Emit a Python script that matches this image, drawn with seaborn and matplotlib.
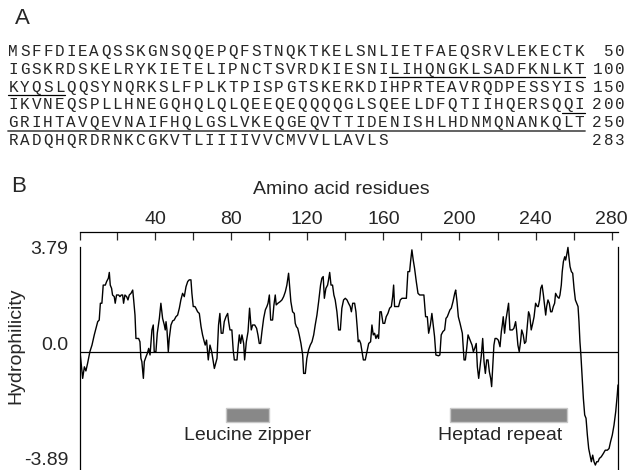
import matplotlib
matplotlib.use('Agg')
import matplotlib.pyplot as plt
import matplotlib.transforms as mtransforms
from matplotlib.lines import Line2D
import seaborn as sns

sns.set_style('white')
plt.rcParams['font.family'] = ['Liberation Sans', 'DejaVu Sans']

# ---- data ----
sequence = ("MSFFDIEAQSSKGNSQQEPQFSTNQKTKELSNLIETFAEQSRVLEKECTK"
            "IGSKRDSKELRYKIETELIPNCTSVRDKIESNILIHQNGKLSADFKNLKT"
            "KYQSLQQSYNQRKSLFPLKTPISPGTSKERKDIHPRTEAVRQDPESSYIS"
            "IKVNEQSPLLHNEGQHQLQLQEEQEQQQQGLSQEELDFQTIIHQERSQQI"
            "GRIHTAVQEVNAIFHQLGSLVKEQGEQVTTIDENISHLHDNMQNANKQLT"
            "RADQHQRDRNKCGKVTLIIIIVVCMVVLLAVLS")
line_ends = [50, 100, 150, 200, 250, 283]
underlined = [(84, 105), (199, 250)]

residue = [
    0.6, 2.0, 2.9, 3.7, 4.6, 5.8, 6.9, 8.1, 9.0, 9.9,
    10.7, 11.3, 12.1, 12.8, 13.9, 14.6, 15.5, 16.0, 16.5, 17.2,
    17.7, 18.6, 19.1, 19.8, 20.9, 21.6, 22.3, 23.0, 23.5, 24.2,
    25.1, 25.8, 26.5, 27.4, 28.3, 28.8, 29.5, 30.0, 31.4, 32.1,
    32.6, 33.1, 33.9, 34.4, 35.3, 36.0, 36.7, 37.4, 38.4, 39.1,
    39.6, 40.5, 41.2, 42.3, 43.1, 44.0, 44.9, 45.4, 45.8, 46.3,
    47.0, 47.5, 48.4, 49.3, 50.1, 51.0, 51.9, 52.8, 53.6, 54.5,
    55.4, 56.3, 57.2, 58.0, 58.9, 59.4, 60.1, 61.0, 61.5, 62.4,
    63.3, 64.2, 65.0, 65.9, 66.4, 67.1, 68.0, 68.9, 69.8, 70.6,
    71.2,
    72.6, 73.4, 74.1, 74.8, 75.7, 76.4, 77.3, 78.2, 78.7, 79.4,
    80.4, 81.1, 81.7, 83.1, 83.6, 84.3, 85.0, 85.7, 86.6, 87.1,
    88.0, 88.9, 89.7, 90.6, 91.3, 92.4, 93.4, 94.1, 94.8, 95.5,
    96.2, 97.1, 98.0, 98.8, 99.4, 100.1, 100.8, 101.8, 102.5, 103.2,
    103.7, 104.6, 105.8, 106.7, 107.6, 108.5, 109.3, 110.2, 110.7, 111.4,
    112.3, 113.2, 113.7, 114.3, 115.0, 115.8, 116.7, 117.6, 118.1, 119.0,
    119.8, 120.7, 121.6, 122.5, 123.4, 124.2, 125.1, 126.0, 127.0, 127.7,
    128.4, 129.0, 129.8, 130.7, 131.2, 131.8, 132.5, 133.3, 134.0, 134.7,
    135.6, 136.5, 137.4, 138.2, 139.1, 140.0, 140.9, 141.7, 142.6,
    143.2, 143.9, 144.9, 145.6, 146.3, 146.8, 147.4, 148.1, 148.8, 149.5,
    150.5, 151.6, 152.3, 153.3, 154.0, 154.7, 155.4, 156.1, 156.8, 157.5,
    158.2, 158.9, 159.8, 160.7, 161.5, 162.4, 163.3, 164.2, 164.9, 165.4,
    165.9, 167.3, 168.0, 168.9, 169.8, 171.2, 172.1, 172.9, 173.8, 174.3,
    175.0, 175.7, 176.4, 177.3, 178.2, 179.1, 180.3, 181.3, 182.2, 183.1,
    183.8, 184.7, 185.5, 186.2, 186.9, 187.6, 189.0, 189.7, 190.4, 191.3,
    192.2, 192.9, 193.6, 194.3, 195.0, 195.7, 196.6, 197.5, 198.0, 198.7,
    199.4, 200.3, 200.9, 201.5, 202.4, 203.1, 203.8, 204.5, 205.2, 205.9,
    206.6, 207.3, 208.0, 208.8, 209.4, 210.1, 210.8, 211.5, 212.2, 212.9,
    213.6, 214.3,
    215.0, 215.7, 216.4, 216.9, 217.6, 218.1, 218.7, 219.5, 220.4, 221.3,
    222.0, 222.5, 223.0, 223.7, 224.4, 225.1, 225.8, 226.5, 227.8, 228.6,
    229.5, 230.0, 230.7, 231.4, 232.1, 232.7, 233.5, 234.2, 234.9, 235.6,
    236.3, 236.9, 237.7, 238.5, 239.2, 240.0, 240.9, 241.4, 242.1, 242.7,
    243.4, 244.1, 244.8, 245.3, 245.8, 246.5, 247.2, 247.9, 248.6, 249.3,
    250.0, 250.5, 251.4, 252.3, 252.8, 253.5, 254.0, 254.6, 255.3, 255.8,
    256.5, 257.0, 257.5, 258.1, 258.8, 259.5, 260.2, 260.9, 261.6, 262.3,
    262.8, 263.3, 263.8, 264.4, 265.1, 265.8, 266.5, 267.2, 267.9, 268.6,
    269.3, 270.0, 270.7, 271.4, 272.1, 272.8, 273.5, 274.5, 275.6, 276.6,
    277.7, 278.6, 279.4, 280.3, 281.2, 282.1, 282.9, 283.3,
]
hydrophilicity = [
    0.00, -0.97, -0.55, -0.70, -0.42, 0.00, 0.24, 0.61, 0.85, 1.09,
    1.15, 1.76, 1.76, 2.42, 2.42, 2.55, 2.67, 2.88, 2.42, 2.30,
    2.06, 2.00, 1.76, 2.06, 2.06, 2.00, 2.06, 2.06, 1.76, 2.06,
    2.00, 1.88, 2.06, 2.12, 2.24, 1.88, 1.33, 0.48, 0.48, 0.36,
    -0.24, -0.36, -0.97, -0.36, -0.18, -0.06, 0.12, -0.12, 0.79, 0.97,
    0.00, 0.00, 0.67, 1.21, 1.76, 1.21, 0.97, 0.79, 1.09, 0.79,
    0.00, 0.48, 0.97, 1.12, 1.15, 1.27, 1.33, 1.58, 1.88, 2.12,
    2.00, 2.36, 2.55, 2.61, 2.61, 2.12, 1.64, 1.64, 1.58, 1.45,
    1.39, 0.91, 0.61, 0.36, 0.24, 0.42, -0.30, 0.24, 0.00, -0.36,
    -0.61,
    -0.24, 0.97, 1.39, 0.67, 0.67, 1.09, 1.27, 1.39, 1.09, 0.79,
    0.79, 0.06, -0.30, -0.30, 0.12, 0.61, 0.30, 0.61, 0.30, -0.30,
    0.36, 0.73, 1.58, 0.79, 0.97, 0.97, 0.85, 0.61, 0.30, 0.30,
    0.73, 1.21, 1.52, 1.64, 1.76, 2.06, 1.15, 1.15, 1.70, 2.06,
    1.70, 1.76, 1.82, 1.88, 2.00, 2.18, 2.42, 2.85, 2.42, 1.82,
    1.45, 1.39, 1.03, 0.91, 0.85, 0.61, 0.30, -0.12, -0.79, -0.79,
    -0.24, 0.06, 0.24, 0.36, 0.61, 0.97, 1.33, 1.82, 2.42, 2.67,
    2.73, 1.94, 2.30, 2.42, 2.61, 2.88, 2.42, 2.42, 2.06, 1.88,
    1.45, 0.79, 0.79, 1.58, 1.88, 1.94, 1.88, 1.76, 1.64,
    1.45, 1.76, 1.76, 1.45, 0.85, 0.36, 0.42, 0.30, 0.00, -0.30,
    -0.30, 0.06, 0.30, 0.36, 0.97, 0.61, 0.67, 0.48, 0.61, 0.48,
    1.45, 1.45, 1.03, 1.03, 1.27, 1.39, 1.58, 1.64, 2.00, 2.42,
    1.64, 1.64, 1.64, 1.88, 1.94, 1.94, 1.94, 2.91, 2.91, 3.27,
    3.70, 3.33, 3.03, 2.55, 2.12, 2.06, 2.06, 2.06, 1.27, 1.27,
    0.67, 0.97, 1.39, 0.97, 0.55, -0.12, -0.15, -0.12, 0.61, 0.73,
    0.79, 1.21, 1.27, 1.39, 1.52, 1.58, 1.82, 2.12, 2.24, 1.82,
    1.27, 1.03, 0.85, 0.67, -0.30, -0.30, 0.12, 0.61, 0.48, 0.36,
    0.24, 0.00, 0.12, 0.30, -0.55, -0.97, -0.55, -0.12, 0.48, -0.36,
    -0.79, -0.30,
    -0.30, -0.73, -0.97, -1.27, -0.36, 0.24, 0.48, 0.48, 0.42, 0.18,
    0.73, 0.97, 1.27, 0.67, 1.15, 1.45, 1.76, 0.79, 0.79, 0.85,
    1.09, 0.79, 0.24, 0.00, 0.36, 0.79, 0.61, 0.30, 0.36, 0.91,
    1.45, 1.33, 0.79, 1.03, 1.27, 1.76, 1.64, 1.64, 1.88, 2.30,
    2.42, 2.06, 1.64, 1.33, 1.64, 1.88, 1.76, 1.45, 1.45, 1.64,
    1.76, 2.12, 2.00, 1.94, 2.06, 2.42, 2.91, 3.27, 3.45, 3.33,
    3.58, 3.79, 3.45, 3.09, 2.91, 2.85, 2.30, 1.88, 1.76, 1.64,
    1.09, 0.36, -0.12, -0.85, -1.70, -2.30, -2.42, -3.03, -3.52, -3.76,
    -4.00, -3.76, -4.00, -4.12, -4.00, -4.00, -3.88, -3.82, -3.70, -3.58,
    -3.58, -3.52, -3.27, -3.03, -2.67, -2.18, -1.58, -1.21,
]

domain_names = ['Leucine zipper', 'Heptad repeat']
domain_start = [77.3, 195.0]
domain_end = [99.7, 256.6]
domain_label_x = [88.6, 221.3]

ytick_values = [3.79, 0.0, -3.89]
ytick_labels = ['3.79', '0.0', '-3.89']

# ---- figure ----
W, H = 627, 470
fig = plt.figure(figsize=(W / 100, H / 100), dpi=100)


def fx(px):
    return px / W


def fy(py):
    return 1 - py / H


# panel A: sequence
PITCH = 11.55
X0 = 7.5
line_y = [51 + 17.8 * i for i in range(6)]
fig.text(fx(22), fy(19), 'A', fontsize=16, ha='center', va='center')

start = 0
for row, end in enumerate(line_ends):
    chunk = sequence[start:end]
    base = line_y[row] + 5
    for i, ch in enumerate(chunk):
        fig.text(fx(X0 + PITCH * (i + 0.5)), fy(base), ch, family='Liberation Mono',
                 fontsize=11.5, ha='center', va='baseline')
    num = str(end)
    for i, ch in enumerate(num):
        fig.text(fx(626 - PITCH * (len(num) - i - 0.5)), fy(base), ch, family='Liberation Mono',
                 fontsize=11.5, ha='center', va='baseline')
    # underlines
    for a, b in underlined:
        lo, hi = max(a, start + 1), min(b, end)
        if lo <= hi:
            x1 = X0 + PITCH * (lo - start - 1)
            x2 = X0 + PITCH * (hi - start)
            col, lw = ('#555555', 1.3) if (lo == start + 1 and hi == end) else ('black', 0.9)
            fig.add_artist(Line2D([fx(x1), fx(x2)], [fy(line_y[row] + 8.5)] * 2, color=col, lw=lw))
    start = end

# panel B: hydrophilicity plot
fig.text(fx(19), fy(186), 'B', fontsize=16, ha='center', va='center')
fig.text(fx(341), fy(190), 'Amino acid residues', fontsize=14, ha='center', va='center')

ax = fig.add_axes([fx(80), 0.0, (618 - 80) / W, (470 - 231.7) / H])
sns.lineplot(x=residue, y=hydrophilicity, ax=ax, color='black', lw=1.0,
             estimator=None, sort=False)
ax.axhline(0, color='black', lw=0.9)

for name, s, e, lx in zip(domain_names, domain_start, domain_end, domain_label_x):
    ax.barh(-2.3, e - s, left=s, height=0.48, color='#888888', edgecolor='#c8c8c8', lw=1)
    ax.text(lx, -3.03, name, fontsize=14, ha='center', va='center')

ax.set_xlim(0.6, 283.3)
ax.set_ylim(-4.30, 4.36)

ax.xaxis.tick_top()
ax.set_xticks(range(40, 281, 40))
ax.set_xticks([0.6] + list(range(20, 261, 40)), minor=True)
ax.tick_params(axis='x', which='both', direction='in', length=6, width=0.9,
               labelsize=14, pad=3, top=True, bottom=False)
ax.set_yticks(ytick_values)
ax.set_yticklabels(ytick_labels)
ax.tick_params(axis='y', length=0, labelsize=14, pad=8.6)
lab0 = ax.get_yticklabels()[1]
lab0.set_transform(lab0.get_transform() + mtransforms.ScaledTranslation(0, 8 / 100, fig.dpi_scale_trans))

ax.set_xlabel('')
ax.set_ylabel('Hydrophilicity', fontsize=14)
ax.yaxis.set_label_coords(-0.104, 0.52)

for side in ['left', 'right', 'top', 'bottom']:
    ax.spines[side].set_color('black')
    ax.spines[side].set_linewidth(0.9)
ax.spines['bottom'].set_visible(False)
ax.spines['left'].set_bounds(-4.30, 3.79)
ax.spines['right'].set_bounds(-4.30, 3.79)

fig.savefig('out.png', dpi=100)
